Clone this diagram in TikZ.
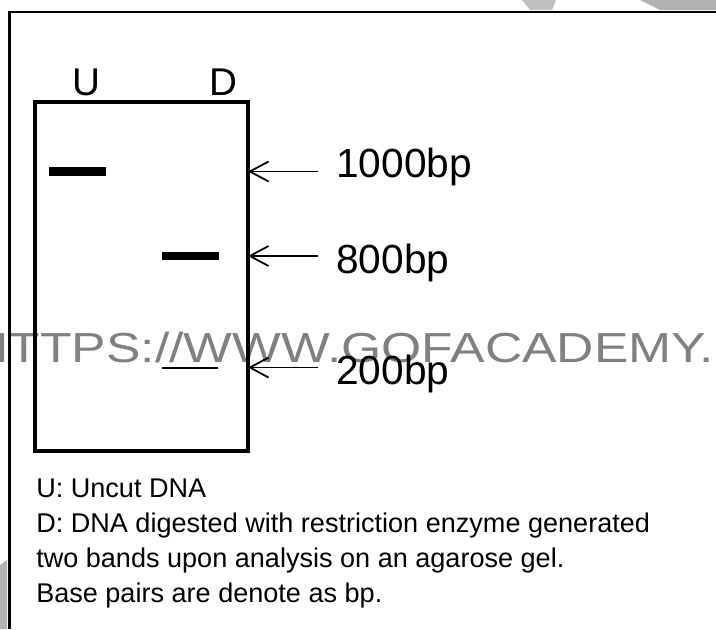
\documentclass[tikz,border=0pt]{standalone}
\usepackage{fontspec}
\setmainfont{Liberation Sans}
\usetikzlibrary{arrows.meta}
\begin{document}
\begin{tikzpicture}[x=0.75pt,y=-0.75pt,
  frameline/.style={line width=1.6pt},
  gelbox/.style={line width=3pt},
  band/.style={fill=black,draw=none},
  marker/.style={line width=1.35pt,-{Straight Barb[length=14pt,width=15pt,line width=1.35pt]}},
  lanelabel/.style={font=\fontsize{29}{34}\selectfont,inner sep=0pt,anchor=base},
  sizelabel/.style={font=\fontsize{30.5}{36}\selectfont,inner sep=0pt,anchor=base west},
  caption/.style={font=\fontsize{20.3}{24}\selectfont,inner sep=0pt,anchor=base west},
  watermark/.style={text=black!50,font=\fontsize{31.5}{36}\selectfont,inner sep=0pt,anchor=base east},
  smudge/.style={fill=black!30,draw=none}
]
\useasboundingbox (0,0) rectangle (716,629);
% background smudges
\fill[smudge,black!25] (522,0) -- (556,0) -- (552,10) -- (530,10) -- cycle;
\fill[smudge] (640,0) -- (716,0) -- (716,10) -- (660,10) -- cycle;
\fill[smudge] (0,565) -- (7,560) -- (7,629) -- (0,629) -- cycle;
% watermark
\node[watermark] (wm) at (714,362) {\scalebox{1.23}[1]{HTTPS://WWW.GOFACADEMY.}};
% outer frame
\draw[frameline] (9.5,629) -- (9.5,12) -- (716,12);
% gel
\draw[gelbox] (34.7,102) rectangle (247.5,451);
\node[lanelabel] (U) at (86,95) {U};
\node[lanelabel] (D) at (223,95) {D};
% bands
\fill[band] (49,167) rectangle (106,176);
\fill[band] (162,252) rectangle (219,260);
\fill[band] (162,366.5) rectangle (218,369);
% markers
\coordinate (s1000) at (318,171.5);
\coordinate (e1000) at (248,171.5);
\coordinate (s800) at (318,256);
\coordinate (e800) at (248,256);
\coordinate (s200) at (318,367.5);
\coordinate (e200) at (248,367.5);
\draw[marker] (s1000) -- (e1000);
\draw[marker] (s800) -- (e800);
\draw[marker] (s200) -- (e200);
\node[sizelabel] (l1000) at (336,177) {1000bp};
\node[sizelabel] (l800) at (336,273) {800bp};
\node[sizelabel] (l200) at (336,384) {200bp};
% caption
\node[caption] (c1) at (36,497) {U: Uncut DNA};
\node[caption] (c2) at (36,532) {D: DNA digested with restriction enzyme generated};
\node[caption] (c3) at (36,567) {two bands upon analysis on an agarose gel.};
\node[caption] (c4) at (36,602) {Base pairs are denote as bp.};
\end{tikzpicture}
\end{document}
